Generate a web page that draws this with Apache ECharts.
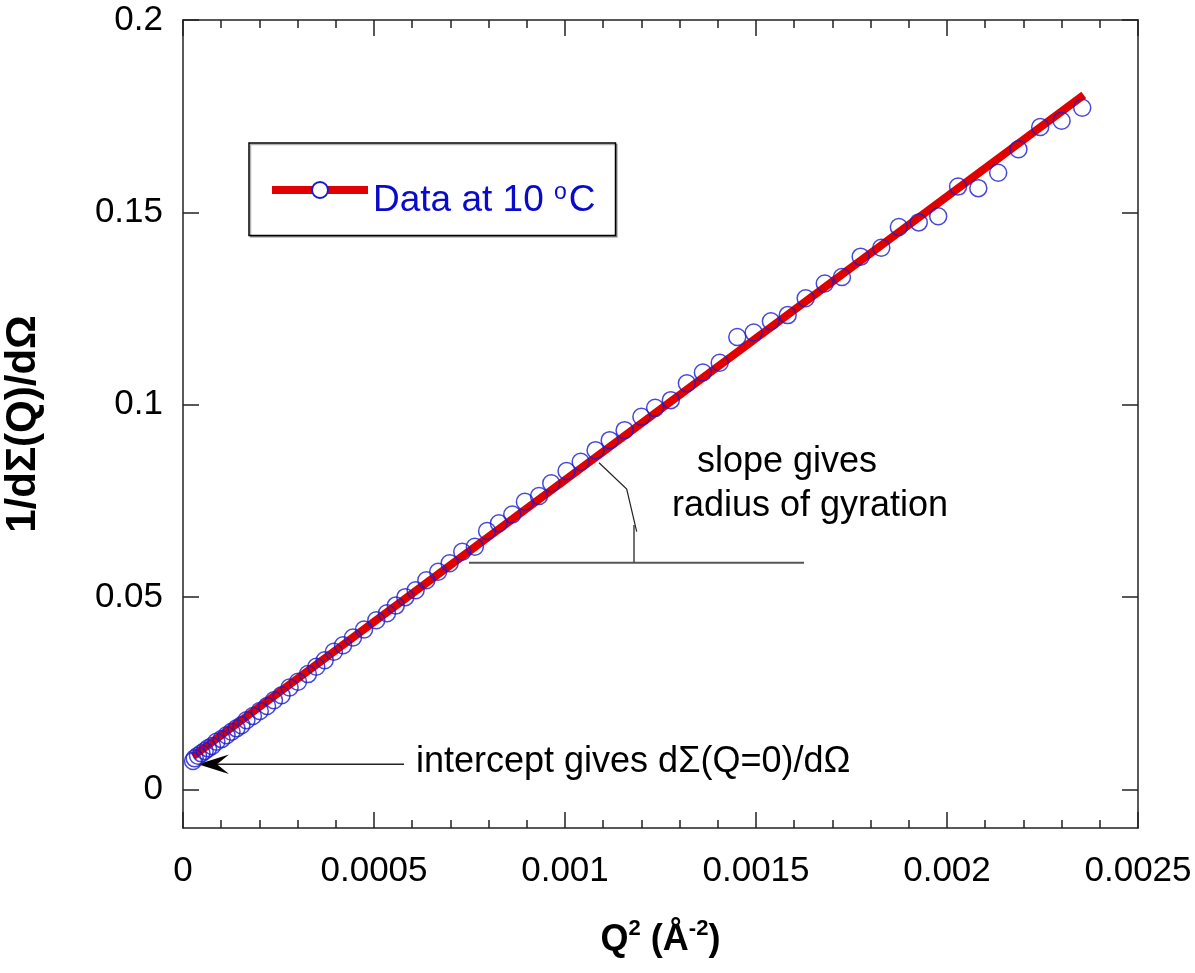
<!DOCTYPE html>
<html>
<head>
<meta charset="utf-8">
<script src="https://cdn.jsdelivr.net/npm/echarts@6/dist/echarts.min.js"></script>
<style>
  html, body { margin: 0; padding: 0; background: #fff; }
  #chart { width: 1195px; height: 973px; }
</style>
</head>
<body>
<div id="chart"></div>
<script>
// Q^2 values (1/A^2)
const qSquared = [
  0.0000262, 0.0000306, 0.0000393, 0.0000482, 0.0000568, 0.0000655, 0.0000759, 0.0000874,
  0.000101, 0.000114, 0.000127, 0.00014, 0.000153, 0.000166, 0.000183, 0.000201,
  0.00022, 0.000238, 0.000258, 0.000279, 0.000301, 0.000327, 0.000349, 0.000371,
  0.000395, 0.000419, 0.000445, 0.000474, 0.000506, 0.000534, 0.000557, 0.000582,
  0.000609, 0.000637, 0.000668, 0.000698, 0.000731, 0.000764, 0.000796, 0.000827,
  0.000862, 0.000895, 0.000932, 0.000964, 0.001004, 0.001041, 0.00108, 0.001117,
  0.001156, 0.0012, 0.001236, 0.001277, 0.001319, 0.001361, 0.001405, 0.001451,
  0.001494, 0.001539, 0.001583, 0.00163, 0.00168, 0.001725, 0.001774, 0.001828,
  0.001874, 0.001926, 0.001977, 0.002029, 0.002082, 0.002134, 0.002187, 0.002244,
  0.0023, 0.002354
];
// 1/dSigma/dOmega
const invCross = [
  0.0074, 0.0081, 0.0088, 0.0094, 0.0100, 0.0107, 0.0113, 0.0124,
  0.0131, 0.0141, 0.0150, 0.0159, 0.0167, 0.0180, 0.0191, 0.0204,
  0.0217, 0.0232, 0.0245, 0.0265, 0.0280, 0.0300, 0.0319, 0.0336,
  0.0358, 0.0375, 0.0395, 0.0416, 0.0440, 0.0458, 0.0478, 0.0500,
  0.0518, 0.0544, 0.0566, 0.0588, 0.0618, 0.0631, 0.0672, 0.0692,
  0.0715, 0.0748, 0.0763, 0.0796, 0.0828, 0.0852, 0.0882, 0.0908,
  0.0934, 0.0969, 0.0992, 0.1012, 0.1056, 0.1084, 0.1109, 0.1176,
  0.1188, 0.1217, 0.1233, 0.1277, 0.1315, 0.1332, 0.1385, 0.1408,
  0.1462, 0.1474, 0.1490, 0.1567, 0.1563, 0.1603, 0.1664, 0.1722,
  0.1738, 0.1772
];
// straight-line fit end points
const fitX = [0.000026, 0.002358];
const fitY = [0.00866, 0.1805];

const yTicks = [0, 0.05, 0.1, 0.15, 0.2];

const FONT = "'Liberation Sans', Arial, sans-serif";
const AXIS_COLOR = '#222';

var myChart = echarts.init(document.getElementById('chart'));

const points = qSquared.map((q, i) => [q, invCross[i]]);
const fitLine = fitX.map((x, i) => [x, fitY[i]]);

const xCommon = {
  type: 'value',
  min: 0,
  max: 0.0025,
  interval: 0.0005,
  axisLine: { show: true, onZero: false, lineStyle: { color: AXIS_COLOR, width: 1.5 } },
  axisTick: { inside: true, length: 16, lineStyle: { color: AXIS_COLOR, width: 1.5 } },
  minorTick: { show: true, splitNumber: 5, length: 8, lineStyle: { color: AXIS_COLOR, width: 1.5 } },
  splitLine: { show: false },
};

const yCommon = {
  type: 'value',
  min: -0.01,
  max: 0.2,
  axisLine: { show: true, onZero: false, lineStyle: { color: AXIS_COLOR, width: 1.5 } },
  axisTick: { inside: true, length: 16, customValues: yTicks, lineStyle: { color: AXIS_COLOR, width: 1.5 } },
  splitLine: { show: false },
};

var option = {
  animation: false,
  backgroundColor: '#fff',
  grid: { left: 183, right: 57, top: 20, bottom: 145, containLabel: false, outerBoundsMode: 'none' },
  legend: {
    data: ['Data at 10 °C'],
    left: 249,
    top: 143,
    orient: 'vertical',
    padding: [38, 20, 16, 19],
    itemWidth: 96,
    itemHeight: 20,
    borderColor: '#000',
    borderWidth: 1.5,
    backgroundColor: '#fff',
    shadowColor: 'rgba(0,0,0,0.3)',
    shadowOffsetX: 1.5,
    shadowOffsetY: 1.5,
    shadowBlur: 0,
    lineStyle: { width: 8, color: '#e00000' },
    formatter: function () {
      return '{t|Data at 10 }{s|o}{t|C}';
    },
    textStyle: {
      padding: [22, 0, 0, 0],
      rich: {
        t: { fontFamily: FONT, fontSize: 37, color: '#0a0acc', lineHeight: 40 },
        s: { fontFamily: FONT, fontSize: 23, color: '#0a0acc', verticalAlign: 'top', lineHeight: 40, padding: [0, 2, 0, 0] },
      },
    },
  },
  xAxis: [
    Object.assign({}, xCommon, {
      position: 'bottom',
      axisLabel: { fontFamily: FONT, fontSize: 35, color: '#000', margin: 26 },
      name: '{b|Q}{u|2}{b| (Å}{u|-2}{b|)}',
      nameLocation: 'middle',
      nameGap: 90,
      nameTextStyle: {
        rich: {
          b: { fontFamily: FONT, fontSize: 36, fontWeight: 'bold', color: '#000', lineHeight: 44 },
          u: { fontFamily: FONT, fontSize: 22, fontWeight: 'bold', color: '#000', verticalAlign: 'top', lineHeight: 44 },
        },
      },
    }),
    Object.assign({}, xCommon, {
      position: 'top',
      axisLabel: { show: false },
    }),
  ],
  yAxis: [
    Object.assign({}, yCommon, {
      position: 'left',
      axisLabel: { fontFamily: FONT, fontSize: 35, color: '#000', margin: 20, customValues: yTicks },
      name: '1/dΣ(Q)/dΩ',
      nameLocation: 'middle',
      nameRotate: 90,
      nameGap: 139,
      nameTextStyle: { fontFamily: FONT, fontSize: 42, fontWeight: 'bold', color: '#000' },
    }),
    Object.assign({}, yCommon, {
      position: 'right',
      axisLabel: { show: false },
    }),
  ],
  series: [
    {
      name: 'Data at 10 °C',
      type: 'line',
      data: fitLine,
      symbol: 'emptyCircle',
      showSymbol: false,
      lineStyle: { color: '#e00000', width: 8 },
      itemStyle: { color: '#1a1acc' },
      z: 2,
      silent: true,
    },
    {
      name: 'points',
      type: 'scatter',
      data: points,
      symbol: 'circle',
      symbolSize: 17,
      itemStyle: { color: 'rgba(0,0,0,0)', borderColor: '#1a1ad0', borderWidth: 1.5 },
      z: 3,
      silent: true,
    },
  ],
  graphic: [
    // intercept arrow
    { type: 'line', shape: { x1: 216, y1: 764.3, x2: 404, y2: 764.3 }, style: { stroke: '#222', lineWidth: 1.5 } },
    { type: 'polygon', shape: { points: [[198, 764.3], [229, 754.5], [217, 764.3], [229, 774]] }, style: { fill: '#000' } },
    { type: 'text', left: 416, top: 744, style: { text: 'intercept gives dΣ(Q=0)/dΩ', font: '36px ' + FONT, fill: '#000' } },
    // slope marker
    { type: 'line', shape: { x1: 469, y1: 562.7, x2: 804, y2: 562.7 }, style: { stroke: '#555', lineWidth: 2 } },
    { type: 'line', shape: { x1: 634, y1: 562.7, x2: 634, y2: 525 }, style: { stroke: '#444', lineWidth: 1.5 } },
    { type: 'polyline', shape: { points: [[636.7, 531.7], [626.7, 489], [599, 462.7]] }, style: { stroke: '#222', lineWidth: 1.2, fill: null } },
    { type: 'text', x: 787, y: 462, style: { text: 'slope gives', font: '36px ' + FONT, fill: '#000', textAlign: 'center', textVerticalAlign: 'middle' } },
    { type: 'text', x: 810, y: 506, style: { text: 'radius of gyration', font: '36px ' + FONT, fill: '#000', textAlign: 'center', textVerticalAlign: 'middle' } },
  ],
};

myChart.setOption(option);
</script>
</body>
</html>
